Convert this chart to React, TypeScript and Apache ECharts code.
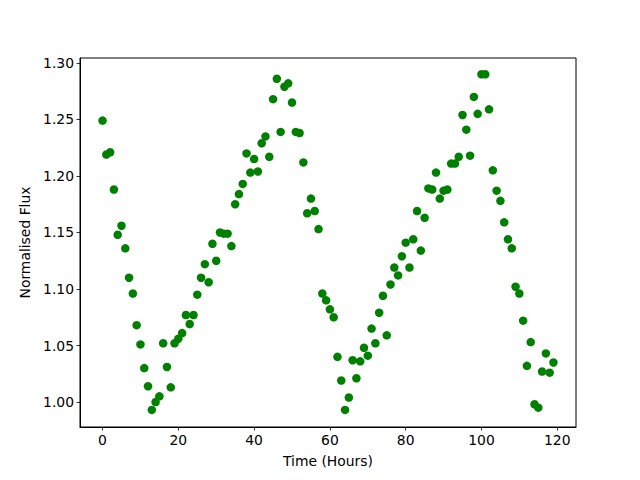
import React, { useEffect, useRef } from "react";
import * as echarts from "echarts";

const hours: number[] = Array.from({ length: 120 }, (_, i) => i);
const flux: number[] = [
  1.249, 1.219, 1.221, 1.188, 1.148, 1.156, 1.136, 1.110, 1.096, 1.068,
  1.051, 1.030, 1.014, 0.993, 1.000, 1.005, 1.052, 1.031, 1.013, 1.052,
  1.056, 1.061, 1.077, 1.069, 1.077, 1.095, 1.110, 1.122, 1.106, 1.140,
  1.125, 1.150, 1.149, 1.149, 1.138, 1.175, 1.184, 1.193, 1.220, 1.203,
  1.215, 1.204, 1.229, 1.235, 1.217, 1.268, 1.286, 1.239, 1.279, 1.282,
  1.265, 1.239, 1.238, 1.212, 1.167, 1.180, 1.169, 1.153, 1.096, 1.090,
  1.082, 1.075, 1.040, 1.019, 0.993, 1.004, 1.037, 1.021, 1.036, 1.048,
  1.041, 1.065, 1.052, 1.079, 1.094, 1.059, 1.104, 1.119, 1.112, 1.129,
  1.141, 1.119, 1.144, 1.169, 1.134, 1.163, 1.189, 1.188, 1.203, 1.180,
  1.187, 1.188, 1.211, 1.211, 1.217, 1.254, 1.241, 1.218, 1.270, 1.255,
  1.290, 1.290, 1.259, 1.205, 1.187, 1.178, 1.159, 1.144, 1.136, 1.102,
  1.096, 1.072, 1.032, 1.053, 0.998, 0.995, 1.027, 1.043, 1.026, 1.035,
];
const xTicks: number[] = [0, 20, 40, 60, 80, 100, 120];
const yTicks: number[] = [1.0, 1.05, 1.1, 1.15, 1.2, 1.25, 1.3];

const FONT = "DejaVu Sans";

export default function App() {
  const ref = useRef<HTMLDivElement>(null);
  useEffect(() => {
    if (!ref.current) return;
    const chart = echarts.init(ref.current, null, { renderer: "svg" });
    const data = hours.map((h, i) => [h, flux[i]]);
    chart.setOption({
      animation: false,
      backgroundColor: "#ffffff",
      grid: {
        left: 80,
        top: 58,
        width: 496,
        height: 369,
        show: true,
        borderColor: "#000000",
        borderWidth: 1,
        backgroundColor: "transparent",
      },
      xAxis: {
        type: "value",
        min: -5.95,
        max: 124.95,
        name: "Time (Hours)",
        nameLocation: "middle",
        nameGap: 27,
        nameTextStyle: { fontFamily: FONT, fontSize: 13.9, color: "#000" },
        axisLine: { show: true, onZero: false, lineStyle: { color: "#000", width: 1 } },
        axisTick: {
          show: true,
          inside: false,
          length: 3.5,
          lineStyle: { color: "#000", width: 0.8 },
          customValues: xTicks,
        },
        axisLabel: {
          fontFamily: FONT,
          fontSize: 13.9,
          color: "#000",
          margin: 6,
          customValues: xTicks,
          formatter: (v: number) => String(Math.round(v)),
        },
        splitLine: { show: false },
      },
      yAxis: {
        type: "value",
        min: 0.9779,
        max: 1.3044,
        name: "Normalised Flux",
        nameLocation: "middle",
        nameGap: 47,
        nameRotate: 90,
        nameTextStyle: { fontFamily: FONT, fontSize: 13.9, color: "#000" },
        axisLine: { show: true, onZero: false, lineStyle: { color: "#000", width: 1 } },
        axisTick: {
          show: true,
          inside: false,
          length: 3.5,
          lineStyle: { color: "#000", width: 0.8 },
          customValues: yTicks,
        },
        axisLabel: {
          fontFamily: FONT,
          fontSize: 13.9,
          color: "#000",
          margin: 6,
          customValues: yTicks,
          formatter: (v: number) => v.toFixed(2),
        },
        splitLine: { show: false },
      },
      series: [
        {
          type: "scatter",
          data,
          symbol: "circle",
          symbolSize: 8.5,
          itemStyle: { color: "#008000", opacity: 1 },
        },
      ],
    });
    return () => chart.dispose();
  }, []);
  return <div ref={ref} style={{ width: 640, height: 480, position: "absolute", left: 0, top: 0 }} />;
}
